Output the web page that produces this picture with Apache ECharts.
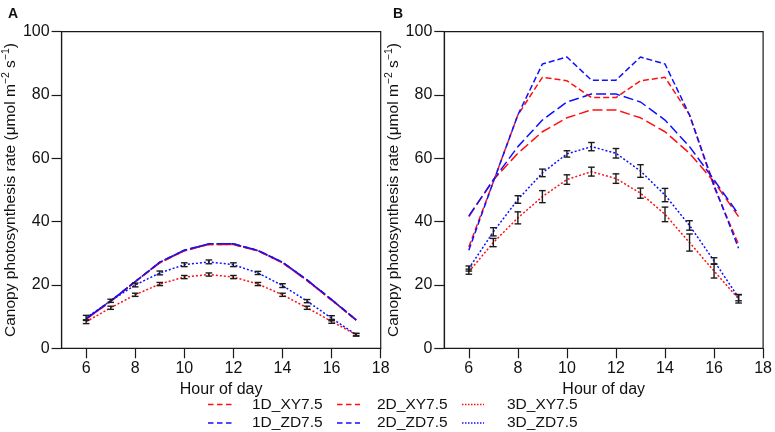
<!DOCTYPE html>
<html>
<head>
<meta charset="utf-8">
<script src="https://cdn.jsdelivr.net/npm/echarts@6/dist/echarts.min.js"></script>
<style>html,body{margin:0;padding:0;background:#fff}#c{width:775px;height:432px}</style>
</head>
<body>
<div id="c"></div>
<script>
var hours = [6,7,8,9,10,11,12,13,14,15,16,17];
var xTicks = [6,8,10,12,14,16,18];

// Panel A
var A_1D_XY = [9.2,14.8,21.0,27.0,30.8,32.8,32.8,30.8,27.0,21.4,15.2,8.9];
var A_1D_ZD = [9.4,15.0,21.1,27.2,31.0,33.0,33.0,30.9,27.2,21.6,15.4,9.0];
var A_2D_XY = [9.2,14.8,21.0,27.0,30.8,32.8,32.8,30.8,27.0,21.4,15.2,8.9];
var A_2D_ZD = [9.4,15.0,21.1,27.2,31.0,33.0,33.0,30.9,27.2,21.6,15.4,9.0];
var A_3D_XY = [8.4,12.8,16.9,20.3,22.5,23.3,22.5,20.3,16.9,12.8,8.5,4.3];
var A_3D_ZD = [9.6,15.0,20.0,23.8,26.4,27.3,26.4,23.8,19.8,14.9,9.5,4.3];
var A_3D_XY_err = [0.6,0.5,0.5,0.5,0.5,0.5,0.5,0.5,0.5,0.5,0.6,0.4];
var A_3D_ZD_err = [0.8,0.5,0.6,0.6,0.6,0.6,0.6,0.5,0.6,0.5,0.8,0.4];

// Panel B
var B_1D_XY = [41.6,53.2,61.6,68.4,72.8,75.3,75.3,72.8,68.4,61.6,52.6,41.6];
var B_1D_ZD = [41.8,53.2,63.7,72.1,77.8,80.3,80.3,77.8,72.1,63.7,53.2,42.3];
var B_2D_XY = [32.0,52.6,73.7,85.6,84.5,79.2,79.2,84.5,85.6,73.7,51.0,32.8];
var B_2D_ZD = [31.0,52.6,73.7,89.8,92.0,84.7,84.7,92.0,89.8,73.7,51.5,31.6];
var B_3D_XY = [24.2,33.4,41.2,47.9,53.3,55.8,53.6,49.0,42.3,33.4,24.4,15.6];
var B_3D_ZD = [25.2,36.8,47.0,55.4,61.4,63.7,61.6,56.0,48.4,38.8,27.6,16.0];
var B_3D_XY_err = [0.8,1.3,1.9,1.9,1.5,1.4,1.5,1.6,2.3,2.7,2.2,1.3];
var B_3D_ZD_err = [0.8,1.3,1.2,1.2,1.0,1.3,1.5,2.0,2.1,1.5,1.0,1.0];

var names = ['1D_XY7.5','1D_ZD7.5','2D_XY7.5','2D_ZD7.5','3D_XY7.5','3D_ZD7.5'];

var RED = '#ff1010', BLUE = '#1010ff', INK = '#1a1a1a';
var FONT = '"Liberation Sans", Arial, sans-serif';
var dashes = {'1D': [10,4], '2D': [6,3], '3D': [2,2]};
var legendDashes = {'1D': [5.5,3.5], '2D': [5.5,3.5], '3D': [1.5,1.5]};

function colorOf(name){ return name.indexOf('XY') >= 0 ? RED : BLUE; }
function pairs(v){ return hours.map(function(h,i){ return [h, v[i]]; }); }
function errs(v,e){ return hours.map(function(h,i){ return [h, v[i]-e[i], v[i]+e[i]]; }); }

function lineSeries(name, data, g){
  var kind = name.substr(0,2);
  var color = colorOf(name);
  return {
    type:'line', name:name, data:pairs(data), xAxisIndex:g, yAxisIndex:g,
    symbol:'none', smooth:false, silent:true, z:2,
    lineStyle:{color:color, width:1.5, type:dashes[kind]},
    itemStyle:{color:color}
  };
}
function renderErr(params, api){
  var x = api.value(0), lo = api.value(1), hi = api.value(2);
  var p1 = api.coord([x, lo]), p2 = api.coord([x, hi]);
  var w = 3.3, st = {stroke:INK, lineWidth:1.4};
  return {type:'group', children:[
    {type:'line', shape:{x1:p1[0],y1:p1[1],x2:p2[0],y2:p2[1]}, style:st},
    {type:'line', shape:{x1:p1[0]-w,y1:p1[1],x2:p1[0]+w,y2:p1[1]}, style:st},
    {type:'line', shape:{x1:p2[0]-w,y1:p2[1],x2:p2[0]+w,y2:p2[1]}, style:st}
  ]};
}
function errSeries(v,e,g){
  return {type:'custom', data:errs(v,e), xAxisIndex:g, yAxisIndex:g, renderItem:renderErr,
    encode:{x:0, y:[1,2]}, z:5, silent:true};
}

var yName = '{n|Canopy photosynthesis rate (\u03bcmol m}{s|\u22122}{n| s}{s|\u22121}{n|)}';

function xAxis(g){
  return {gridIndex:g, type:'value', min:5, max:18,
    name:'Hour of day', nameLocation:'middle', nameGap:27,
    nameTextStyle:{fontSize:16, color:'#111', fontFamily:FONT, verticalAlign:'top'},
    axisLine:{lineStyle:{color:INK, width:1.2}},
    axisTick:{length:10, customValues:xTicks, lineStyle:{color:INK, width:1.2}},
    axisLabel:{customValues:xTicks, fontSize:16, margin:12, color:'#111', fontFamily:FONT},
    splitLine:{show:false}};
}
function yAxis(g){
  return {gridIndex:g, type:'value', min:0, max:100, interval:20,
    name:yName, nameLocation:'middle', nameGap:40,
    nameTextStyle:{color:'#111', fontFamily:FONT,
      rich:{n:{fontSize:15.5, lineHeight:20, fontFamily:FONT, color:'#111'},
            s:{fontSize:10.5, lineHeight:20, verticalAlign:'top', fontFamily:FONT, color:'#111'}}},
    axisLine:{lineStyle:{color:INK, width:1.2}},
    axisTick:{length:10, lineStyle:{color:INK, width:1.2}},
    axisLabel:{fontSize:16, margin:12, color:'#111', fontFamily:FONT},
    splitLine:{show:false}};
}

// Legend drawn as graphic elements (3 columns x 2 rows)
var legCols = [{x1:208, x2:233, tx:252}, {x1:337, x2:360, tx:377}, {x1:462, x2:484, tx:507}];
var legRows = [404.5, 423];
var legendGraphics = [];
names.forEach(function(name, i){
  var c = legCols[Math.floor(i/2)], y = legRows[i%2];
  legendGraphics.push({type:'line', shape:{x1:c.x1, y1:y, x2:c.x2, y2:y},
    style:{stroke:colorOf(name), lineWidth:1.5, lineDash:legendDashes[name.substr(0,2)]}, silent:true});
  legendGraphics.push({type:'text', x:c.tx, y:y, silent:true,
    style:{text:name, fontSize:15.5, fontFamily:FONT, fill:'#111', verticalAlign:'middle', align:'left'}});
});

var series = [
  lineSeries('1D_XY7.5', A_1D_XY, 0), lineSeries('1D_ZD7.5', A_1D_ZD, 0),
  lineSeries('2D_XY7.5', A_2D_XY, 0), lineSeries('2D_ZD7.5', A_2D_ZD, 0),
  lineSeries('3D_XY7.5', A_3D_XY, 0), lineSeries('3D_ZD7.5', A_3D_ZD, 0),
  errSeries(A_3D_XY, A_3D_XY_err, 0), errSeries(A_3D_ZD, A_3D_ZD_err, 0),
  lineSeries('1D_XY7.5', B_1D_XY, 1), lineSeries('1D_ZD7.5', B_1D_ZD, 1),
  lineSeries('2D_XY7.5', B_2D_XY, 1), lineSeries('2D_ZD7.5', B_2D_ZD, 1),
  lineSeries('3D_XY7.5', B_3D_XY, 1), lineSeries('3D_ZD7.5', B_3D_ZD, 1),
  errSeries(B_3D_XY, B_3D_XY_err, 1), errSeries(B_3D_ZD, B_3D_ZD_err, 1)
];

var chart = echarts.init(document.getElementById('c'), null, {renderer:'canvas'});
chart.setOption({
  animation:false,
  backgroundColor:'#fff',
  title:[
    {text:'A', left:3, top:2, textStyle:{fontSize:14, fontWeight:'bold', color:'#111', fontFamily:FONT}},
    {text:'B', left:388, top:2, textStyle:{fontSize:14, fontWeight:'bold', color:'#111', fontFamily:FONT}}
  ],
  grid:[
    {left:59.3, top:31.7, width:321.4, height:316.6, show:true, borderColor:INK, borderWidth:1.2, containLabel:false},
    {left:444.3, top:31.7, width:321.4, height:316.6, show:true, borderColor:INK, borderWidth:1.2, containLabel:false}
  ],
  xAxis:[xAxis(0), xAxis(1)],
  yAxis:[yAxis(0), yAxis(1)],
  graphic:legendGraphics,
  series:series
});
</script>
</body>
</html>
